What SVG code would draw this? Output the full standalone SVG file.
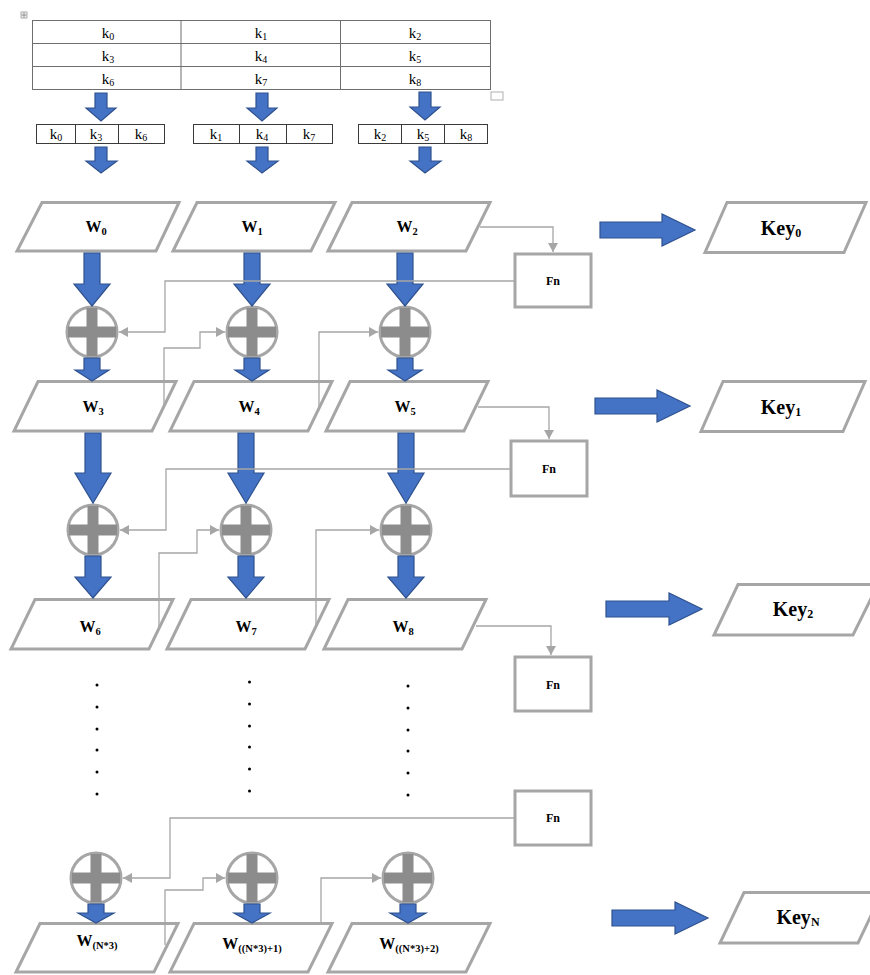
<svg xmlns="http://www.w3.org/2000/svg" width="870" height="975" viewBox="0 0 870 975">
<defs>
<style>
.bg{fill:#ffffff}
.tbl{fill:none;stroke:#6e6e6e;stroke-width:1}
.tbl2{fill:none;stroke:#3a3a3a;stroke-width:1}
.kt{font-family:"Liberation Serif",serif;font-size:15px;fill:#000;text-anchor:middle}
.ks{font-size:10px}
.blue{fill:#4472C4;stroke:#2F528F;stroke-width:1.2}
.para{fill:#ffffff;stroke:#A6A6A6;stroke-width:3;stroke-linejoin:miter}
.wt{font-family:"Liberation Serif",serif;font-weight:bold;font-size:16px;fill:#000;text-anchor:middle}
.ws{font-size:10.5px}
.keyt{font-family:"Liberation Serif",serif;font-weight:bold;font-size:20px;fill:#000;text-anchor:middle}
.keys{font-size:12px}
.fn{fill:#ffffff;stroke:#A6A6A6;stroke-width:3}
.fnt{font-family:"Liberation Serif",serif;font-weight:bold;font-size:12px;fill:#000;text-anchor:middle}
.xc{fill:#ffffff;stroke:#A6A6A6;stroke-width:3}
.xb{fill:#8C8C8C}
.con{fill:none;stroke:#A6A6A6;stroke-width:1.3}
.dot{fill:#000}
</style>
<marker id="ah" markerUnits="userSpaceOnUse" markerWidth="10" markerHeight="10" refX="9" refY="5" orient="auto">
<path d="M0,0 L9,5 L0,10 Z" fill="#A6A6A6"/>
</marker>
<g id="xor">
<circle class="xc" cx="0" cy="0" r="25"/>
<rect class="xb" x="-5.5" y="-24" width="11" height="48"/>
<rect class="xb" x="-24" y="-5.5" width="48" height="11"/>
</g>
</defs>
<rect class="bg" x="0" y="0" width="870" height="975"/>

<!-- top key matrix -->
<g id="keymatrix">
<rect x="21" y="12" width="6" height="6" fill="#f4f4f4" stroke="#9a9a9a" stroke-width="0.8"/>
<path d="M24,12.5 V17.5 M21.5,15 H26.5" stroke="#7a7a7a" stroke-width="0.8"/>
<rect class="tbl" x="32.5" y="20.5" width="458" height="69"/>
<path class="tbl" d="M32.5,43.5 H490.5 M32.5,66.5 H490.5 M181,20.5 V89.5 M340.5,20.5 V89.5"/>
<rect x="491" y="92" width="12" height="8" fill="none" stroke="#b0b0b0" stroke-width="1"/>
<text class="kt" x="108" y="38">k<tspan class="ks" dy="2">0</tspan></text>
<text class="kt" x="261" y="38">k<tspan class="ks" dy="2">1</tspan></text>
<text class="kt" x="415" y="38">k<tspan class="ks" dy="2">2</tspan></text>
<text class="kt" x="108" y="61">k<tspan class="ks" dy="2">3</tspan></text>
<text class="kt" x="261" y="61">k<tspan class="ks" dy="2">4</tspan></text>
<text class="kt" x="415" y="61">k<tspan class="ks" dy="2">5</tspan></text>
<text class="kt" x="108" y="84">k<tspan class="ks" dy="2">6</tspan></text>
<text class="kt" x="261" y="84">k<tspan class="ks" dy="2">7</tspan></text>
<text class="kt" x="415" y="84">k<tspan class="ks" dy="2">8</tspan></text>
</g>

<g id="col0">
<rect class="tbl2" x="36.5" y="124.5" width="128" height="19"/>
<path class="tbl2" d="M75.5,124.5 V143.5 M118.5,124.5 V143.5"/>
<text class="kt" x="56" y="139">k<tspan class="ks" dy="2">0</tspan></text>
<text class="kt" x="96" y="139">k<tspan class="ks" dy="2">3</tspan></text>
<text class="kt" x="141" y="139">k<tspan class="ks" dy="2">6</tspan></text>
</g>
<g id="col1">
<rect class="tbl2" x="193.5" y="124.5" width="139" height="19"/>
<path class="tbl2" d="M239.5,124.5 V143.5 M286.5,124.5 V143.5"/>
<text class="kt" x="216" y="139">k<tspan class="ks" dy="2">1</tspan></text>
<text class="kt" x="262" y="139">k<tspan class="ks" dy="2">4</tspan></text>
<text class="kt" x="309" y="139">k<tspan class="ks" dy="2">7</tspan></text>
</g>
<g id="col2">
<rect class="tbl2" x="358.5" y="124.5" width="129" height="19"/>
<path class="tbl2" d="M401.5,124.5 V143.5 M444.5,124.5 V143.5"/>
<text class="kt" x="380" y="139">k<tspan class="ks" dy="2">2</tspan></text>
<text class="kt" x="423" y="139">k<tspan class="ks" dy="2">5</tspan></text>
<text class="kt" x="466" y="139">k<tspan class="ks" dy="2">8</tspan></text>
</g>

<!-- W nodes -->
<g id="W0"><path class="para" d="M42,202.5 H179 L156,251 H17 Z"/><text class="wt" x="96" y="232">W<tspan class="ws" dy="3">0</tspan></text></g>
<g id="W1"><path class="para" d="M197,202.5 H335 L311,251 H173 Z"/><text class="wt" x="252" y="232">W<tspan class="ws" dy="3">1</tspan></text></g>
<g id="W2"><path class="para" d="M352,202.5 H490 L466,251 H328 Z"/><text class="wt" x="407" y="232">W<tspan class="ws" dy="3">2</tspan></text></g>

<g id="W3"><path class="para" d="M38,381.5 H176 L152,431 H14 Z"/><text class="wt" x="93" y="412">W<tspan class="ws" dy="3">3</tspan></text></g>
<g id="W4"><path class="para" d="M194,381.5 H332 L308,431 H170 Z"/><text class="wt" x="249" y="412">W<tspan class="ws" dy="3">4</tspan></text></g>
<g id="W5"><path class="para" d="M350,381.5 H488 L464,431 H326 Z"/><text class="wt" x="405" y="412">W<tspan class="ws" dy="3">5</tspan></text></g>

<g id="W6"><path class="para" d="M35,599.5 H173 L149,649 H11 Z"/><text class="wt" x="90" y="632">W<tspan class="ws" dy="3">6</tspan></text></g>
<g id="W7"><path class="para" d="M191,599.5 H329 L305,649 H167 Z"/><text class="wt" x="246" y="632">W<tspan class="ws" dy="3">7</tspan></text></g>
<g id="W8"><path class="para" d="M348,599.5 H486 L462,649 H324 Z"/><text class="wt" x="403" y="632">W<tspan class="ws" dy="3">8</tspan></text></g>

<g id="WN0"><path class="para" d="M40,923.5 H178 L154,972 H16 Z"/><text class="wt" x="97" y="946">W<tspan class="ws" dy="3">(N*3)</tspan></text></g>
<g id="WN1"><path class="para" d="M194,923.5 H332 L308,972 H170 Z"/><text class="wt" x="252" y="949">W<tspan class="ws" dy="3">((N*3)+1)</tspan></text></g>
<g id="WN2"><path class="para" d="M352,923.5 H490 L466,972 H328 Z"/><text class="wt" x="409" y="949">W<tspan class="ws" dy="3">((N*3)+2)</tspan></text></g>

<!-- XOR nodes -->
<g id="X0"><use href="#xor" x="92" y="332"/></g>
<g id="X1"><use href="#xor" x="252" y="332"/></g>
<g id="X2"><use href="#xor" x="405" y="332"/></g>
<g id="X3"><use href="#xor" x="93" y="530"/></g>
<g id="X4"><use href="#xor" x="246" y="530"/></g>
<g id="X5"><use href="#xor" x="406" y="530"/></g>
<g id="X6"><use href="#xor" x="96" y="878"/></g>
<g id="X7"><use href="#xor" x="252" y="878"/></g>
<g id="X8"><use href="#xor" x="408" y="878"/></g>

<!-- Fn nodes -->
<g id="Fn1"><rect class="fn" x="515" y="254" width="76" height="53"/><text class="fnt" x="553" y="285">Fn</text></g>
<g id="Fn2"><rect class="fn" x="511" y="441" width="76" height="55"/><text class="fnt" x="549" y="473">Fn</text></g>
<g id="Fn3"><rect class="fn" x="515" y="657" width="76" height="54"/><text class="fnt" x="553" y="689">Fn</text></g>
<g id="Fn4"><rect class="fn" x="515" y="791" width="76" height="54"/><text class="fnt" x="553" y="822">Fn</text></g>

<!-- Key nodes -->
<g id="Key0"><path class="para" d="M727,202.5 H866 L844,252.5 H705 Z"/><text class="keyt" x="781" y="235">Key<tspan class="keys" dy="2">0</tspan></text></g>
<g id="Key1"><path class="para" d="M723,381.5 H865 L843,431.5 H701 Z"/><text class="keyt" x="781" y="414">Key<tspan class="keys" dy="2">1</tspan></text></g>
<g id="Key2"><path class="para" d="M738,584.5 H878 L853,635 H714 Z"/><text class="keyt" x="793" y="616">Key<tspan class="keys" dy="2">2</tspan></text></g>
<g id="KeyN"><path class="para" d="M744,892.5 H882 L858,943 H720 Z"/><text class="keyt" x="798" y="924">Key<tspan class="keys" dy="2">N</tspan></text></g>

<!-- dots -->
<g id="dots">
<circle class="dot" cx="97" cy="685" r="1.5"/><circle class="dot" cx="97" cy="707" r="1.5"/><circle class="dot" cx="97" cy="729" r="1.5"/><circle class="dot" cx="97" cy="750" r="1.5"/><circle class="dot" cx="97" cy="772" r="1.5"/><circle class="dot" cx="97" cy="794" r="1.5"/>
<circle class="dot" cx="249.5" cy="682" r="1.5"/><circle class="dot" cx="249.5" cy="704" r="1.5"/><circle class="dot" cx="249.5" cy="726" r="1.5"/><circle class="dot" cx="249.5" cy="747" r="1.5"/><circle class="dot" cx="249.5" cy="769" r="1.5"/><circle class="dot" cx="249.5" cy="791" r="1.5"/>
<circle class="dot" cx="408" cy="686" r="1.5"/><circle class="dot" cx="408" cy="708" r="1.5"/><circle class="dot" cx="408" cy="730" r="1.5"/><circle class="dot" cx="408" cy="751" r="1.5"/><circle class="dot" cx="408" cy="773" r="1.5"/><circle class="dot" cx="408" cy="795" r="1.5"/>
</g>

<!-- connectors -->
<g id="connectors">
<!-- blue arrows: top -->
<path class="blue" d="M95,93 H107 V108 H116 L101,121 L86,108 H95 Z"/>
<path class="blue" d="M256,93 H268 V108 H277 L262,121 L247,108 H256 Z"/>
<path class="blue" d="M419,92 H431 V107 H440 L425,120 L410,107 H419 Z"/>
<path class="blue" d="M95,147 H107 V161 H117 L101,173 L86,161 H95 Z"/>
<path class="blue" d="M256,147 H268 V161 H278 L262,173 L247,161 H256 Z"/>
<path class="blue" d="M419,147 H431 V161 H441 L425,173 L410,161 H419 Z"/>
<!-- row A -->
<path class="blue" d="M84,253 H100 V284 H110 L92,306 L74,284 H84 Z"/>
<path class="blue" d="M244,253 H260 V284 H270 L252,306 L234,284 H244 Z"/>
<path class="blue" d="M397,253 H413 V284 H423 L405,306 L387,284 H397 Z"/>
<path class="blue" d="M84,358 H100 V370 H109 L92,381 L75,370 H84 Z"/>
<path class="blue" d="M244,358 H260 V370 H269 L252,381 L235,370 H244 Z"/>
<path class="blue" d="M397,358 H413 V370 H422 L405,381 L388,370 H397 Z"/>
<!-- row B -->
<path class="blue" d="M85,433 H101 V473 H111 L93,503 L75,473 H85 Z"/>
<path class="blue" d="M238,433 H254 V473 H264 L246,503 L228,473 H238 Z"/>
<path class="blue" d="M398,433 H414 V473 H424 L406,503 L388,473 H398 Z"/>
<path class="blue" d="M85,556 H101 V577 H111 L93,598 L75,577 H85 Z"/>
<path class="blue" d="M238,556 H254 V577 H264 L246,598 L228,577 H238 Z"/>
<path class="blue" d="M398,556 H414 V577 H424 L406,598 L388,577 H398 Z"/>
<!-- row D -->
<path class="blue" d="M88,904 H104 V913 H114 L96,923 L78,913 H88 Z"/>
<path class="blue" d="M244,904 H260 V913 H270 L252,923 L234,913 H244 Z"/>
<path class="blue" d="M400,904 H416 V913 H426 L408,923 L390,913 H400 Z"/>
<!-- right arrows to keys -->
<path class="blue" d="M600,222 H662 V214 L695,230 L662,246 V238 H600 Z"/>
<path class="blue" d="M595,398 H657 V390 L690,406 L657,422 V414 H595 Z"/>
<path class="blue" d="M606,601 H669 V593 L702,609 L669,625 V617 H606 Z"/>
<path class="blue" d="M612,910 H675 V902 L708,918 L675,934 V926 H612 Z"/>

<!-- gray connectors -->
<path class="con" d="M480,227 H553 V252" marker-end="url(#ah)"/>
<path class="con" d="M514,281 H165 V332 H119" marker-end="url(#ah)"/>
<path class="con" d="M164,407 V348 H200 V332 H225" marker-end="url(#ah)"/>
<path class="con" d="M319,408 V332 H378" marker-end="url(#ah)"/>
<path class="con" d="M478,407 H549 V439" marker-end="url(#ah)"/>
<path class="con" d="M510,469 H166 V530 H120" marker-end="url(#ah)"/>
<path class="con" d="M159,628 V553 H197 V530 H219" marker-end="url(#ah)"/>
<path class="con" d="M316,627 V530 H379" marker-end="url(#ah)"/>
<path class="con" d="M476,626 H551 V655" marker-end="url(#ah)"/>
<path class="con" d="M514,818 H170 V878 H123" marker-end="url(#ah)"/>
<path class="con" d="M165,945 V890 H203 V878 H225" marker-end="url(#ah)"/>
<path class="con" d="M321,923 V878 H381" marker-end="url(#ah)"/>
</g>
</svg>
